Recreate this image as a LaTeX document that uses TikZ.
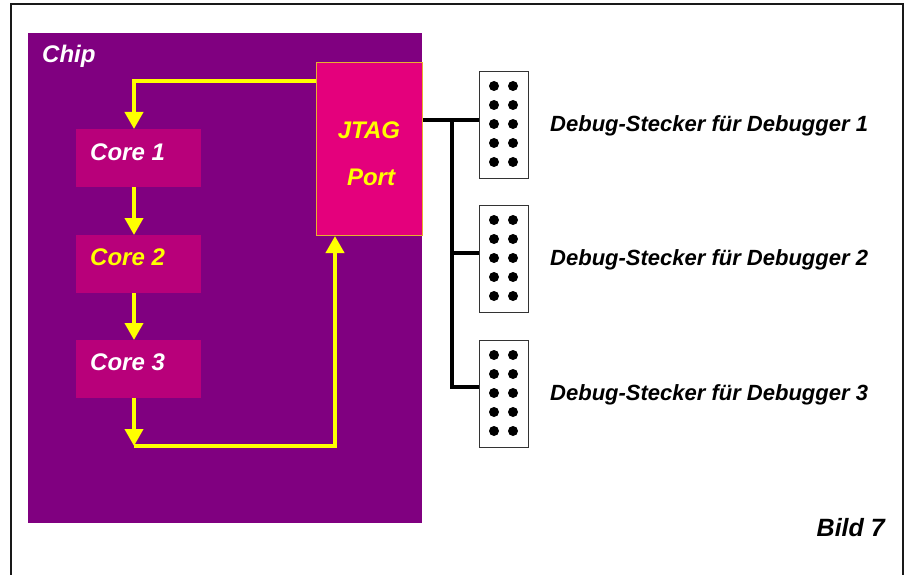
\documentclass[tikz,border=0pt]{standalone}
\usepackage{fontspec}
\setmainfont{Liberation Sans}
\usetikzlibrary{arrows.meta}

\definecolor{chippurple}{HTML}{800080}
\definecolor{corepink}{HTML}{B8007A}
\definecolor{jtagpink}{HTML}{E4007C}
\definecolor{jtagedge}{HTML}{E8B030}
\definecolor{flowyellow}{HTML}{FFFF00}

\tikzset{
  label text/.style={font=\bfseries\itshape\fontsize{22}{26}\selectfont, anchor=west, inner sep=0pt},
  core/.style={fill=corepink, minimum width=125pt, minimum height=58pt, inner sep=0pt, anchor=north west},
  flow/.style={flowyellow, line width=4pt, line join=miter},
  flow arrow/.style={flow, -{Triangle[width=18pt,length=17pt]}},
  bus/.style={black, line width=4pt, line join=miter},
  plug/.style={draw=black!80, fill=white, line width=1pt, minimum width=49pt, minimum height=107pt, inner sep=0pt, anchor=north west}
}

\begin{document}
\begin{tikzpicture}[x=1pt, y=-1pt]
		\useasboundingbox (0,0) rectangle (908,575);
		% frame
		\draw[black!90, line width=2.5pt] (11,580) -- (11,4) -- (903,4) -- (903,580);
		% chip
		\fill[chippurple] (28,33) rectangle (422,523);
		\node[font=\bfseries\itshape\fontsize{24}{28}\selectfont, white, anchor=west, inner sep=0pt] (chip) at (42,56) {Chip};
		% cores
		\node[core] (core1) at (76,129) {};
		\node[core] (core2) at (76,235) {};
		\node[core] (core3) at (76,340) {};
		\node[font=\bfseries\itshape\fontsize{24}{28}\selectfont, white, anchor=west, inner sep=0pt] at (90,152) {Core 1};
		\node[font=\bfseries\itshape\fontsize{24}{28}\selectfont, flowyellow, anchor=west, inner sep=0pt] at (90,257) {Core 2};
		\node[font=\bfseries\itshape\fontsize{24}{28}\selectfont, white, anchor=west, inner sep=0pt] at (90,362) {Core 3};
		% JTAG port
		\node[draw=jtagedge, fill=jtagpink, line width=1pt, minimum width=106pt, minimum height=173pt, inner sep=0pt, anchor=north west] (jtag) at (316,62) {};
		\node[font=\bfseries\itshape\fontsize{24}{28}\selectfont, flowyellow, inner sep=0pt] at (369,130) {JTAG};
		\node[font=\bfseries\itshape\fontsize{24}{28}\selectfont, flowyellow, inner sep=0pt] at (371,177) {Port};
		% scan chain
		\coordinate (top) at (134,81);
		\coordinate (bot) at (134,446);
		\coordinate (ret) at (335,446);
		\draw[flow arrow] (jtag.west |- top) -- (top) -- (top |- core1.north);
		\draw[flow arrow] (top |- core1.south) -- (top |- core2.north);
		\draw[flow arrow] (top |- core2.south) -- (top |- core3.north);
		\draw[flow arrow] (top |- core3.south) -- (bot);
		\draw[flow arrow] (bot) -- (ret) -- (ret |- jtag.south);
		% debug plugs
		\foreach \n/\y in {1/71,2/205,3/340}
		{
			\node[plug] (plug\n) at (479,\y) {};
			\foreach \r in {0,...,4}
			\foreach \c in {0,1}
			{
				\fill ([xshift=15pt+19*\c pt, yshift=-15pt-19*\r pt]plug\n.north west) circle (5pt);
			}
			\node[label text] (text\n) at (550,\y+55) {Debug-Stecker für Debugger \n};
		}
		% bus to the plugs
		\coordinate (bus1) at (452,120);
		\coordinate (bus2) at (452,253);
		\coordinate (bus3) at (452,387);
		\draw[bus] (jtag.east |- bus1) -- (plug1.west |- bus1);
		\draw[bus] (bus1) -- (bus3) -- (plug3.west |- bus3);
		\draw[bus] (bus2) -- (plug2.west |- bus2);
		% figure number
		\node[font=\bfseries\itshape\fontsize{25}{30}\selectfont, anchor=east, inner sep=0pt] (bild) at (885,528) {Bild 7};
	\end{tikzpicture}
\end{document}
